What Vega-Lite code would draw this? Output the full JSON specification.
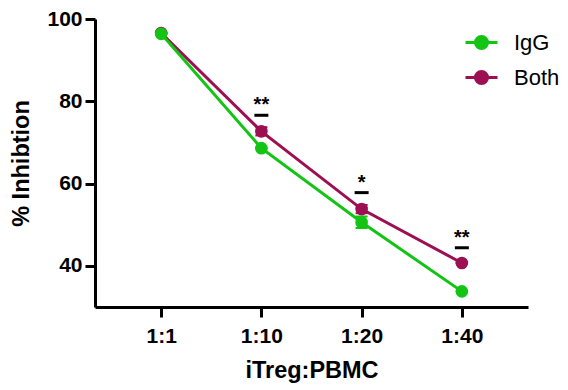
{
  "$schema": "https://vega.github.io/schema/vega-lite/v6.json",
  "width": 433,
  "height": 288,
  "autosize": "none",
  "padding": {"left": 95, "top": 19, "right": 40, "bottom": 83},
  "config": {
    "view": {"stroke": null},
    "font": "Liberation Sans",
    "axis": {
      "domainColor": "black",
      "domainWidth": 3,
      "tickColor": "black",
      "tickWidth": 3,
      "tickSize": 10,
      "labelColor": "black",
      "labelFont": "Liberation Sans",
      "labelFontSize": 21,
      "labelFontWeight": "bold",
      "titleColor": "black",
      "titleFont": "Liberation Sans",
      "titleFontSize": 23.5,
      "titleFontWeight": "bold",
      "grid": false
    }
  },
  "datasets": {
    "main": [
      {"ratio": "1:1", "group": "Both", "mean": 96.6, "lo": 96.6, "hi": 96.6},
      {"ratio": "1:10", "group": "Both", "mean": 72.7, "lo": 71.7, "hi": 73.7},
      {"ratio": "1:20", "group": "Both", "mean": 53.8, "lo": 52.8, "hi": 54.8},
      {"ratio": "1:40", "group": "Both", "mean": 40.7, "lo": 40.7, "hi": 40.7},
      {"ratio": "1:1", "group": "IgG", "mean": 96.4, "lo": 96.4, "hi": 96.4},
      {"ratio": "1:10", "group": "IgG", "mean": 68.6, "lo": 68.6, "hi": 68.6},
      {"ratio": "1:20", "group": "IgG", "mean": 50.6, "lo": 49.2, "hi": 52.0},
      {"ratio": "1:40", "group": "IgG", "mean": 33.8, "lo": 33.8, "hi": 33.8}
    ],
    "sig": [
      {"ratio": "1:10", "label": "**", "dash": 76.6, "star": 79.0},
      {"ratio": "1:20", "label": "*", "dash": 57.8, "star": 60.2},
      {"ratio": "1:40", "label": "**", "dash": 44.4, "star": 46.8}
    ]
  },
  "encoding": {
    "x": {
      "field": "ratio",
      "type": "ordinal",
      "scale": {"type": "point", "domain": ["1:1", "1:10", "1:20", "1:40"], "padding": 0.66},
      "axis": {"title": "iTreg:PBMC", "labelAngle": 0, "labelPadding": 8, "titlePadding": 12}
    }
  },
  "layer": [
    {
      "data": {"name": "main"},
      "mark": {"type": "line", "strokeWidth": 3},
      "encoding": {
        "y": {
          "field": "mean",
          "type": "quantitative",
          "scale": {"domain": [30, 100], "nice": false, "zero": false},
          "axis": {"title": "% Inhibtion", "values": [40, 60, 80, 100], "labelPadding": 3, "titlePadding": 13}
        },
        "color": {
          "field": "group",
          "type": "nominal",
          "scale": {"domain": ["IgG", "Both"], "range": ["#14C414", "#9C0F52"]},
          "legend": {
            "title": null,
            "orient": "none",
            "legendX": 369,
            "legendY": 6,
            "padding": 0,
            "symbolType": "M-1,0L1,0M-0.38,0A0.38,0.38,0,1,1,0.38,0A0.38,0.38,0,1,1,-0.38,0Z",
            "symbolSize": 1024,
            "symbolOpacity": 1,
            "symbolStrokeWidth": 3,
            "labelFontSize": 22,
            "labelFontWeight": "normal",
            "labelColor": "black",
            "labelOffset": 15,
            "rowPadding": 5,
            "encode": {
              "symbols": {"update": {
                "stroke": {"field": "value", "scale": "color"},
                "fill": {"field": "value", "scale": "color"},
                "strokeWidth": {"value": 3},
                "opacity": {"value": 1}
              }}
            }
          }
        }
      }
    },
    {
      "data": {"name": "main"},
      "mark": {"type": "rule", "strokeWidth": 2},
      "encoding": {
        "y": {"field": "lo", "type": "quantitative"},
        "y2": {"field": "hi"},
        "color": {"field": "group", "type": "nominal"}
      }
    },
    {
      "data": {"name": "main"},
      "mark": {"type": "tick", "orient": "horizontal", "size": 12, "thickness": 2, "opacity": 1},
      "encoding": {
        "y": {"field": "hi", "type": "quantitative"},
        "color": {"field": "group", "type": "nominal"}
      }
    },
    {
      "data": {"name": "main"},
      "mark": {"type": "tick", "orient": "horizontal", "size": 12, "thickness": 2, "opacity": 1},
      "encoding": {
        "y": {"field": "lo", "type": "quantitative"},
        "color": {"field": "group", "type": "nominal"}
      }
    },
    {
      "data": {"name": "main"},
      "mark": {"type": "point", "filled": true, "size": 160, "opacity": 1},
      "encoding": {
        "y": {"field": "mean", "type": "quantitative"},
        "color": {"field": "group", "type": "nominal"}
      }
    },
    {
      "data": {"name": "sig"},
      "mark": {"type": "tick", "orient": "horizontal", "size": 14, "thickness": 3, "color": "black", "opacity": 1},
      "encoding": {
        "y": {"field": "dash", "type": "quantitative"}
      }
    },
    {
      "data": {"name": "sig"},
      "mark": {"type": "text", "fontSize": 20, "fontWeight": "bold", "color": "black", "baseline": "middle"},
      "encoding": {
        "y": {"field": "star", "type": "quantitative"},
        "text": {"field": "label"}
      }
    }
  ]
}
